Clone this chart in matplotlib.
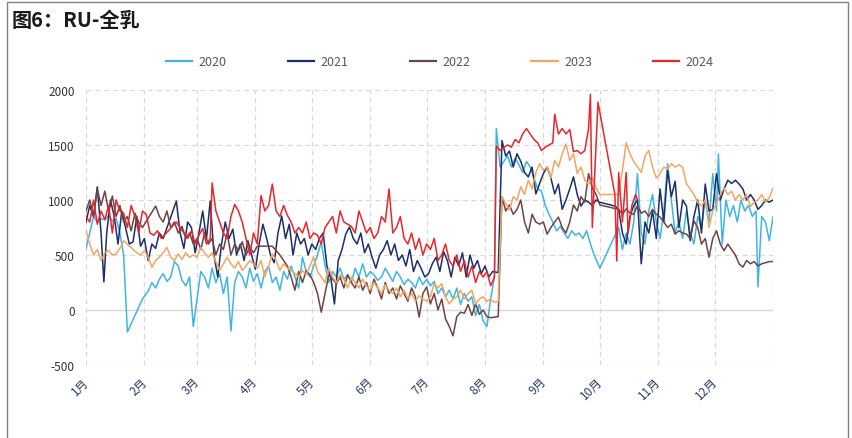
import matplotlib
matplotlib.use("Agg")
import matplotlib.pyplot as plt
from matplotlib.patches import Rectangle
from matplotlib.lines import Line2D
from matplotlib.transforms import ScaledTranslation

plt.rcParams['font.family'] = ['Noto Sans CJK SC', 'DejaVu Sans']

title = "图6：RU-全乳"
series_names = ["2020", "2021", "2022", "2023", "2024"]
month_labels = ["1月", "2月", "3月", "4月", "5月", "6月", "7月", "8月", "9月", "10月", "11月", "12月"]
month_starts = [0, 31, 59, 90, 120, 151, 181, 212, 243, 273, 304, 334]
y_ticks = [-500, 0, 500, 1000, 1500, 2000]

d2020 = [0,2,4,6,8,10,12,14,16,18,20,22,26,30,33,35,37,39,41,43,45,47,49,51,53,55,57,59,61,63,65,67,69,71,73,75,77,79,81,83,85,87,89,91,93,95,97,99,101,103,105,107,109,111,113,115,117,119,121,123,125,127,129,131,133,135,137,139,141,143,145,147,149,151,153,155,157,159,161,163,165,167,169,171,173,175,177,179,181,183,185,187,189,191,193,195,197,199,201,203,205,207,209,211,213,215,217,218,220,222,224,226,228,230,232,234,236,238,240,242,244,246,248,250,252,254,256,258,260,262,264,266,268,270,273,283,285,287,289,291,293,295,297,299,301,303,305,307,309,311,313,315,317,319,321,323,325,327,329,331,333,335,336,338,340,342,344,346,348,350,352,354,356,357,359,361,363,365]
v2020 = [560,700,850,800,830,820,860,810,830,700,500,-200,-50,100,170,250,200,280,330,260,300,440,400,270,220,300,-150,100,350,300,200,380,250,330,150,300,-190,250,350,300,200,380,260,330,200,350,400,250,300,180,350,280,400,300,200,480,350,300,400,500,620,400,250,350,300,380,280,320,250,380,300,420,300,350,320,270,300,380,320,260,350,300,230,280,250,200,300,230,280,220,260,150,200,120,180,100,200,50,150,80,120,-50,50,-100,-150,100,300,1650,1300,1350,1400,1300,1380,1320,1250,1350,1300,1200,1100,1080,950,870,800,720,760,700,650,720,680,700,650,720,600,500,380,750,550,700,600,800,1240,700,600,900,1050,800,650,900,1330,1000,700,800,650,900,700,600,850,750,1000,800,1240,900,1420,600,1000,850,950,800,1000,900,950,850,900,210,850,800,630,845]

d2021 = [0,2,4,6,8,9.5,11,13,15,17,19,21,23,25,27,29,31,33,35,37,39,41,48,50,52,54,56,58,60,62,64,66,68,70,72,74,76,78,80,82,84,86,88,90,92,94,96,98,100,102,104,106,108,110,112,114,116,118,120,122,124,126,128,130,132,134,136,138,140,142,144,146,148,150,152,154,156,158,160,162,164,166,168,170,172,174,176,178,180,182,184,186,188,190,192,194,196,198,200,202,204,206,208,210,212,214,216,219,221,223,225,227,229,231,233,235,237,239,241,243,245,247,249,251,253,255,257,259,261,263,265,267,269,271,273,281,283,285,287,289,291,293,295,297,299,301,303,305,307,309,311,313,315,317,319,321,323,325,327,329,331,333,335,337,339,341,343,345,347,349,351,353,355,357,359,361,363,365]
v2021 = [800,950,850,1120,700,255,700,1000,850,600,900,750,600,620,850,580,650,450,600,560,700,650,990,700,560,800,750,520,700,900,650,990,500,300,600,800,650,735,500,600,450,630,500,370,600,780,650,500,430,700,855,650,780,500,700,600,650,500,600,550,650,700,400,300,55,450,550,690,755,650,600,700,520,600,480,380,500,550,630,500,600,450,500,400,550,350,450,380,300,330,420,480,350,530,450,300,480,400,520,300,500,380,450,330,400,300,350,340,1540,1400,1445,1300,1420,1350,1250,1210,1300,1055,1150,1240,1300,1200,1055,1145,915,1000,1100,1210,1050,945,1000,980,950,1000,980,945,915,700,600,850,950,1000,420,800,700,900,650,1100,800,1270,1030,1170,750,1000,945,630,850,1000,700,1145,900,915,1240,1000,1100,1180,1150,1180,1145,1100,1000,1050,1000,915,950,1000,980,1000]

d2022 = [0,2,4,6,8,10,12,14,16,18,20,22,24,26,28,30,37,39,41,43,45,47,49,51,53,55,57,59,61,63,65,67,69,71,73,75,77,79,81,83,85,87,89,91,99,101,103,105,107,109,111,113,115,117,119,121,123,125,127,129,131,133,135,137,139,141,143,145,147,149,151,153,155,157,159,161,163,165,167,169,171,173,175,177,179,181,183,185,187,189,191,193,195,197,199,201,203,205,207,209,211,213,215,219,221,223,225,227,229,231,233,235,237,239,241,243,245,247,249,251,253,255,257,259,261,263,265,267,269,271,273,283,285,287,289,291,293,295,297,299,301,303,305,307,309,311,313,315,317,319,321,323,325,327,329,331,333,335,337,339,341,343,345,347,349,351,353,355,357,359,361,363,365]
v2022 = [900,1000,850,1100,950,1080,900,1036,850,950,800,850,720,880,800,750,945,850,800,900,750,800,700,760,650,700,600,650,550,700,600,650,500,600,550,700,500,600,540,620,500,570,520,580,580,540,500,450,400,300,180,350,250,355,320,250,150,-20,150,320,280,240,300,200,320,250,200,300,180,250,150,280,200,100,250,150,200,100,220,150,80,200,120,-65,150,210,55,150,0,100,-80,-150,-235,-60,-20,-30,50,-50,55,-40,0,-60,-70,-60,1030,900,955,870,915,1000,800,700,870,800,780,800,690,750,800,845,750,700,800,955,900,1030,980,1240,1110,1050,955,915,870,920,880,870,950,880,900,850,915,870,845,800,750,780,690,720,700,690,650,810,750,600,650,480,650,720,600,540,600,550,500,420,390,450,420,440,400,420,430,440,440]

d2023 = [0,2,4,6,8,10,12,14,16,18,20,27,29,31,33,35,37,39,41,43,45,47,49,51,53,55,57,59,61,63,65,67,69,71,73,75,77,79,81,83,85,87,89,91,93,95,97,99,101,103,105,107,109,111,113,115,117,119,121,123,125,127,129,131,133,135,137,139,141,143,145,147,149,151,153,155,157,159,161,163,165,167,169,171,173,175,177,179,181,183,185,187,189,191,193,195,197,199,201,203,205,207,209,211,213,215,217,219,221,223,225,227,229,231,233,235,237,239,241,243,245,247,249,251,253,255,257,259,261,263,265,267,269,271,273,283,285,287,289,291,293,295,297,299,301,303,305,307,309,311,313,315,317,319,321,323,325,327,329,331,333,335,337,339,341,343,345,347,349,351,353,355,357,359,361,363,365]
v2023 = [720,600,500,550,450,520,540,500,510,560,630,520,500,540,480,390,450,480,520,570,480,450,510,460,520,480,500,480,570,520,480,520,440,360,420,480,420,380,440,360,400,450,420,380,450,300,400,510,450,360,420,380,360,330,300,360,320,400,480,350,300,250,380,300,250,320,280,200,300,250,200,280,220,180,250,200,150,230,180,150,200,120,180,100,150,80,130,100,80,120,240,200,240,120,55,100,120,180,100,150,180,55,100,120,80,100,70,80,1030,970,910,1030,1000,1120,1050,1180,1100,1250,1330,1270,1300,1200,1360,1300,1420,1510,1360,1420,1240,1300,1180,1145,1200,1110,1050,1050,1270,1520,1420,1350,1300,1250,1400,1450,1300,1200,1240,1300,1280,1330,1300,1320,1300,1150,1100,1050,980,945,1000,750,900,970,1050,1110,1050,1080,1000,1050,1000,1050,940,980,1000,1050,980,1020,1110]

d2024 = [0,2,4,6,8,10,12,14,16,18,20,22,24,26,28,30,32,34,36,38,40,48,50,52,54,56,58,60,62,64,66,67,69,71,73,75,77,79,81,83,85,87,89,91,93,95,97,99,101,103,105,107,109,111,113,115,117,119,121,123,125,127,129,131,133,135,137,139,141,143,145,147,149,151,153,155,157,159,161,163,165,167,169,171,173,175,177,179,181,183,185,187,189,191,193,195,197,199,201,203,205,207,209,211,213,215,217,218,220,222,224,226,228,230,232,234,236,238,240,242,244,246,248,249,251,253,255,257,259,261,263,265,267,268,269,272,281,282,283,285,287,288,290,292,293]
v2024 = [850,800,1000,780,900,820,950,700,1000,900,880,750,950,850,700,900,870,700,680,720,650,800,750,700,650,720,600,680,740,600,650,1155,900,800,700,650,850,960,900,800,650,500,700,600,1040,900,950,1145,900,850,950,860,800,700,750,700,800,650,700,680,600,750,800,850,700,900,800,780,760,700,900,800,700,750,650,700,850,800,1100,700,750,850,650,600,700,550,650,500,600,550,650,450,500,600,450,400,500,350,450,300,400,250,350,300,350,220,300,1490,1450,1480,1500,1480,1550,1520,1600,1650,1600,1550,1520,1450,1480,1500,1520,1780,1600,1650,1600,1640,1440,1450,1420,1450,1650,1960,750,1890,1050,445,1250,800,1250,700,950,1050,1000]

days = [d2020, d2021, d2022, d2023, d2024]
values = [v2020, v2021, v2022, v2023, v2024]
colors = ['#3FB5E5', '#1C2F66', '#6E4444', '#F2A663', '#E8262B']

fig = plt.figure(figsize=(8.53, 4.39), dpi=100)
ax = fig.add_axes([86/853, 1-366/439, (773-86)/853, (366-91)/439])

grid_c = '#D9D9D9'
for m in month_starts + [365]:
    ax.axvline(m, color=grid_c, lw=0.9, ls=(0, (4, 3)), zorder=0)
for yv in y_ticks:
    if yv == 0:
        ax.axhline(yv, color=grid_c, lw=1.0, zorder=0)
    else:
        ax.axhline(yv, color=grid_c, lw=0.9, ls=(0, (4, 3)), zorder=0)

for d, v, c, n in zip(days, values, colors, series_names):
    ax.plot(d, v, color=c, lw=1.1, label=n, zorder=2)

ax.set_xlim(0, 365)
ax.set_ylim(-500, 2000)
ax.set_yticks(y_ticks)
ax.set_yticklabels([str(t) for t in y_ticks], fontsize=8.5, color='#333333')
ax.set_xticks(month_starts)
ax.set_xticklabels(month_labels, fontsize=8.5, color='#2E3A63', rotation=45, ha='right')
ax.tick_params(axis='both', length=0)
ax.tick_params(axis='x', pad=7)
ax.tick_params(axis='y', pad=8)
offset = ScaledTranslation(5/100, 0, fig.dpi_scale_trans)
for lbl in ax.get_xticklabels():
    lbl.set_transform(lbl.get_transform() + offset)
for s in ax.spines.values():
    s.set_visible(False)

handles = [Line2D([0], [0], color=c, lw=1.6) for c in colors]
fig.legend(handles, series_names, loc='center', bbox_to_anchor=(440/853, 1-63/439), ncol=5,
           frameon=False, fontsize=9, handlelength=2.1, handletextpad=0.5, columnspacing=4.9,
           labelcolor='#595959')

fig.text(12/853, 0.978, title, fontsize=14.5, fontweight='bold', va='top', ha='left', color='#1a1a1a')

border = Rectangle((7/853, -0.1), (848-7)/853, 1.1 - 3/439, transform=fig.transFigure,
                   fill=False, edgecolor='#808080', lw=1.0)
fig.add_artist(border)

fig.savefig('out.png', dpi=100)
